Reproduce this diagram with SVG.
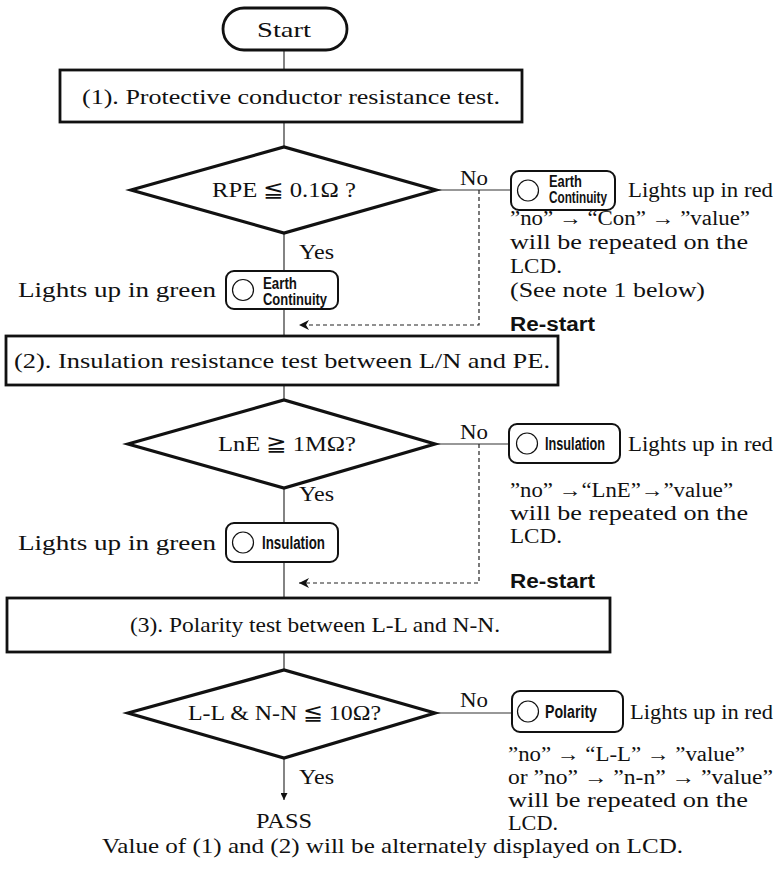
<svg xmlns="http://www.w3.org/2000/svg" width="775" height="870" viewBox="0 0 775 870">
<defs>
<style>
.t{font-family:"Liberation Serif","Times New Roman",serif;font-size:22px;fill:#111}
.n{font-family:"Liberation Serif","Times New Roman",serif;font-size:20px;fill:#111}
.b{font-family:"Liberation Sans",Arial,sans-serif;font-weight:bold;font-size:20px;fill:#111}
.c{font-family:"Liberation Sans",Arial,sans-serif;font-weight:bold;font-size:18px;fill:#111}
.c2{font-family:"Liberation Sans",Arial,sans-serif;font-weight:bold;font-size:16px;fill:#111}
.box{fill:#fff;stroke:#111;stroke-width:2.8}
.dia{fill:#fff;stroke:#111;stroke-width:3.2}
.led{fill:#fff;stroke:#111;stroke-width:2}
.dot{fill:#fff;stroke:#111;stroke-width:1.2}
.ln{fill:none;stroke:#333;stroke-width:1.2}
.dash{fill:none;stroke:#222;stroke-width:1.2;stroke-dasharray:4 3}
</style>
<marker id="ah" viewBox="0 0 10 10" refX="10" refY="5" markerWidth="10" markerHeight="10" markerUnits="userSpaceOnUse" orient="auto">
<path d="M0,0 L10,5 L0,10 L3,5 Z" fill="#111"/>
</marker>
<marker id="ah2" viewBox="0 0 10 10" refX="10" refY="5" markerWidth="8" markerHeight="7" markerUnits="userSpaceOnUse" orient="auto">
<path d="M0,0 L10,5 L0,10 Z" fill="#111"/>
</marker>
</defs>
<rect width="775" height="870" fill="#fff"/>

<g id="connectors">
<path class="ln" d="M284,50V70M284,122V147M284,233V271M284,309V336M284,385V400M284,488V523M284,562V598M284,652V670"/>
<path class="ln" d="M284,758V800" marker-end="url(#ah2)"/>
<path class="ln" d="M436,190H511M435,444H509M435,713H512"/>
<path class="dash" d="M479,190V325H299" marker-end="url(#ah)"/>
<path class="dash" d="M479,444V583H299" marker-end="url(#ah)"/>
<text class="t" x="460" y="185" textLength="28" lengthAdjust="spacingAndGlyphs">No</text>
<text class="t" x="460" y="439" textLength="28" lengthAdjust="spacingAndGlyphs">No</text>
<text class="t" x="460" y="707" textLength="28" lengthAdjust="spacingAndGlyphs">No</text>
<text class="t" x="299" y="259" textLength="35" lengthAdjust="spacingAndGlyphs">Yes</text>
<text class="t" x="299" y="501" textLength="35" lengthAdjust="spacingAndGlyphs">Yes</text>
<text class="t" x="299" y="784" textLength="35" lengthAdjust="spacingAndGlyphs">Yes</text>
<text class="b" x="510" y="331" textLength="85" lengthAdjust="spacingAndGlyphs">Re-start</text>
<text class="b" x="510" y="588" textLength="85" lengthAdjust="spacingAndGlyphs">Re-start</text>
</g>

<g id="start">
<rect class="box" x="223" y="8" width="124" height="42" rx="21"/>
<text class="t" x="257" y="37" textLength="54" lengthAdjust="spacingAndGlyphs">Start</text>
</g>

<g id="step1">
<rect class="box" x="60" y="70" width="462" height="52"/>
<text class="t" x="82" y="104" textLength="418" lengthAdjust="spacingAndGlyphs">(1). Protective conductor resistance test.</text>
</g>

<g id="decision1">
<polygon class="dia" points="131,190 284,147 436,190 284,233"/>
<text class="t" x="212" y="197" textLength="144" lengthAdjust="spacingAndGlyphs">RPE ≦ 0.1Ω ?</text>
</g>

<g id="led-earth-red">
<rect class="led" x="511" y="171" width="104" height="39" rx="8"/>
<circle class="dot" cx="528" cy="190.5" r="10.5"/>
<text class="c2" x="549" y="187" textLength="33" lengthAdjust="spacingAndGlyphs">Earth</text>
<text class="c2" x="549" y="203" textLength="58" lengthAdjust="spacingAndGlyphs">Continuity</text>
<text class="t" x="628" y="197" textLength="145" lengthAdjust="spacingAndGlyphs">Lights up in red</text>
</g>

<g id="note1">
<text class="n" x="510" y="225" textLength="240" lengthAdjust="spacingAndGlyphs">”no” → “Con” → ”value”</text>
<text class="n" x="510" y="249" textLength="238" lengthAdjust="spacingAndGlyphs">will be repeated on the</text>
<text class="n" x="510" y="273" textLength="52" lengthAdjust="spacingAndGlyphs">LCD.</text>
<text class="n" x="510" y="297" textLength="195" lengthAdjust="spacingAndGlyphs">(See note 1 below)</text>
</g>

<g id="led-earth-green">
<text class="t" x="18" y="297" textLength="198" lengthAdjust="spacingAndGlyphs">Lights up in green</text>
<rect class="led" x="226" y="271" width="112" height="38" rx="8"/>
<circle class="dot" cx="243" cy="290" r="10.5"/>
<text class="c2" x="263" y="289" textLength="34" lengthAdjust="spacingAndGlyphs">Earth</text>
<text class="c2" x="263" y="305" textLength="64" lengthAdjust="spacingAndGlyphs">Continuity</text>
</g>

<g id="step2">
<rect class="box" x="6" y="336" width="552" height="49"/>
<text class="t" x="14" y="368" textLength="536" lengthAdjust="spacingAndGlyphs">(2). Insulation resistance test between L/N and PE.</text>
</g>

<g id="decision2">
<polygon class="dia" points="128,444 284,400 435,444 284,488"/>
<text class="t" x="218" y="451" textLength="138" lengthAdjust="spacingAndGlyphs">LnE ≧ 1MΩ?</text>
</g>

<g id="led-insulation-red">
<rect class="led" x="509" y="424" width="111" height="39" rx="8"/>
<circle class="dot" cx="527" cy="443.5" r="10.5"/>
<text class="c" x="545" y="450" textLength="60" lengthAdjust="spacingAndGlyphs">Insulation</text>
<text class="t" x="628" y="451" textLength="145" lengthAdjust="spacingAndGlyphs">Lights up in red</text>
</g>

<g id="note2">
<text class="n" x="510" y="497" textLength="223" lengthAdjust="spacingAndGlyphs">”no” →“LnE”→”value”</text>
<text class="n" x="510" y="520" textLength="238" lengthAdjust="spacingAndGlyphs">will be repeated on the</text>
<text class="n" x="510" y="543" textLength="52" lengthAdjust="spacingAndGlyphs">LCD.</text>
</g>

<g id="led-insulation-green">
<text class="t" x="18" y="550" textLength="198" lengthAdjust="spacingAndGlyphs">Lights up in green</text>
<rect class="led" x="226" y="523" width="112" height="39" rx="8"/>
<circle class="dot" cx="243" cy="542.5" r="10.5"/>
<text class="c" x="262" y="549" textLength="63" lengthAdjust="spacingAndGlyphs">Insulation</text>
</g>

<g id="step3">
<rect class="box" x="7" y="598" width="603" height="54"/>
<text class="t" x="130" y="632" textLength="370" lengthAdjust="spacingAndGlyphs">(3). Polarity test between L-L and N-N.</text>
</g>

<g id="decision3">
<polygon class="dia" points="128,713 284,670 435,713 284,758"/>
<text class="t" x="188" y="720" textLength="193" lengthAdjust="spacingAndGlyphs">L-L &amp; N-N ≦ 10Ω?</text>
</g>

<g id="led-polarity-red">
<rect class="led" x="512" y="691" width="111" height="41" rx="8"/>
<circle class="dot" cx="528" cy="711.5" r="10.5"/>
<text class="c" x="545" y="718" textLength="52" lengthAdjust="spacingAndGlyphs">Polarity</text>
<text class="t" x="630" y="719" textLength="143" lengthAdjust="spacingAndGlyphs">Lights up in red</text>
</g>

<g id="note3">
<text class="n" x="508" y="761" textLength="237" lengthAdjust="spacingAndGlyphs">”no” → “L-L” → ”value”</text>
<text class="n" x="508" y="784" textLength="265" lengthAdjust="spacingAndGlyphs">or ”no” → ”n-n” → ”value”</text>
<text class="n" x="508" y="807" textLength="240" lengthAdjust="spacingAndGlyphs">will be repeated on the</text>
<text class="n" x="508" y="830" textLength="50" lengthAdjust="spacingAndGlyphs">LCD.</text>
</g>

<g id="pass">
<text class="t" x="256" y="828" textLength="56" lengthAdjust="spacingAndGlyphs">PASS</text>
</g>

<g id="footnote">
<text class="t" x="102" y="853" textLength="581" lengthAdjust="spacingAndGlyphs">Value of (1) and (2) will be alternately displayed on LCD.</text>
</g>
</svg>
